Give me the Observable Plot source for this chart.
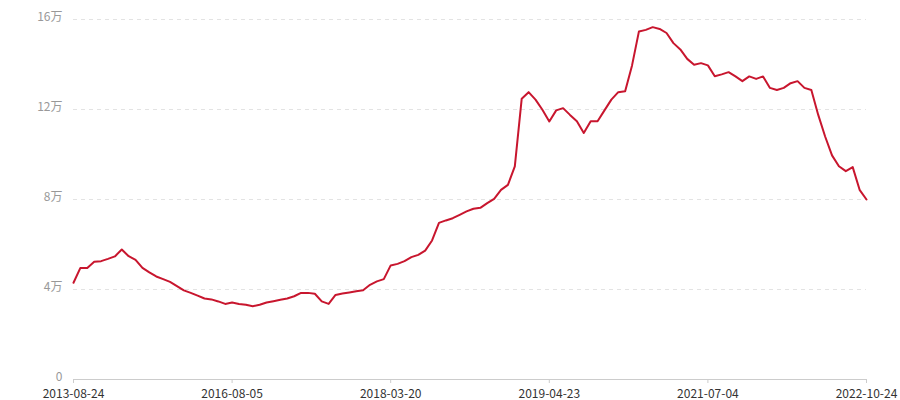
<!DOCTYPE html>
<html>
<head>
<meta charset="utf-8">
<script src="https://cdn.jsdelivr.net/npm/d3@7"></script>
<script src="https://cdn.jsdelivr.net/npm/@observablehq/plot@0.6"></script>
<style>
  html, body { margin: 0; padding: 0; background: #fff; }
  #chart svg { display: block; }
</style>
</head>
<body>
<div id="chart"></div>
<script>
// Tick labels (category dates shown on the x axis) and their positions in the series
const tickLabels = ["2013-08-24", "2016-08-05", "2018-03-20", "2019-04-23", "2021-07-04", "2022-10-24"];
const tickIndex = [0, 23, 46, 69, 92, 115];

// Y axis ticks (unit: 万)
const yTicks = [0, 4, 8, 12, 16];

// Series values (unit: 万), one per period
const values = [
  4.30, 4.96, 4.96, 5.23, 5.26, 5.36, 5.47, 5.78, 5.48, 5.32,
  4.96, 4.76, 4.58, 4.46, 4.34, 4.15, 3.96, 3.85, 3.73, 3.60,
  3.56, 3.47, 3.36, 3.42, 3.36, 3.32, 3.26, 3.32, 3.42, 3.48,
  3.54, 3.60, 3.70, 3.85, 3.85, 3.81, 3.47, 3.36, 3.76, 3.82,
  3.87, 3.92, 3.97, 4.21, 4.36, 4.46, 5.07, 5.14, 5.26, 5.44,
  5.54, 5.73, 6.18, 6.96, 7.07, 7.17, 7.32, 7.47, 7.59, 7.63,
  7.84, 8.03, 8.43, 8.65, 9.47, 12.48, 12.77, 12.44, 11.99, 11.47,
  11.96, 12.06, 11.76, 11.48, 10.96, 11.48, 11.48, 11.96, 12.44, 12.77,
  12.81, 13.96, 15.47, 15.54, 15.66, 15.58, 15.40, 14.95, 14.67, 14.25,
  13.99, 14.06, 13.96, 13.48, 13.56, 13.66, 13.47, 13.26, 13.47, 13.36,
  13.47, 12.96, 12.87, 12.96, 13.17, 13.26, 12.96, 12.87, 11.76, 10.80,
  9.96, 9.48, 9.26, 9.44, 8.43, 8.00
];

const font = "'Noto Sans CJK SC', 'Noto Sans', sans-serif";

const chart = Plot.plot({
  width: 900,
  height: 400,
  marginTop: 19,
  marginBottom: 21,
  marginLeft: 73,
  marginRight: 34,
  style: { fontFamily: font, fontSize: "12px", background: "#fff" },
  x: { type: "linear", domain: [0, values.length - 1] },
  y: { domain: [0, 16] },
  marks: [
    Plot.ruleY(yTicks.filter(d => d > 0), { stroke: "#e3e3e3", strokeDasharray: "4,4", strokeWidth: 1 }),
    Plot.ruleY([0], { stroke: "#cccccc", strokeWidth: 1 }),
    Plot.axisY({
      ticks: yTicks,
      tickSize: 0,
      tickPadding: 11,
      dy: -2,
      tickFormat: d => d === 0 ? "0" : `${d}万`,
      label: null,
      color: "#999999",
      fontSize: 12
    }),
    Plot.axisX({
      ticks: tickIndex,
      tickSize: 4,
      tickPadding: 6,
      tickFormat: i => tickLabels[tickIndex.indexOf(i)],
      label: null,
      stroke: "#cccccc",
      color: "#333333",
      fontSize: 12
    }),
    Plot.lineY(values, {
      x: (d, i) => i,
      y: d => d,
      stroke: "#c8162e",
      strokeWidth: 2
    })
  ]
});

document.getElementById("chart").appendChild(chart);
</script>
</body>
</html>
